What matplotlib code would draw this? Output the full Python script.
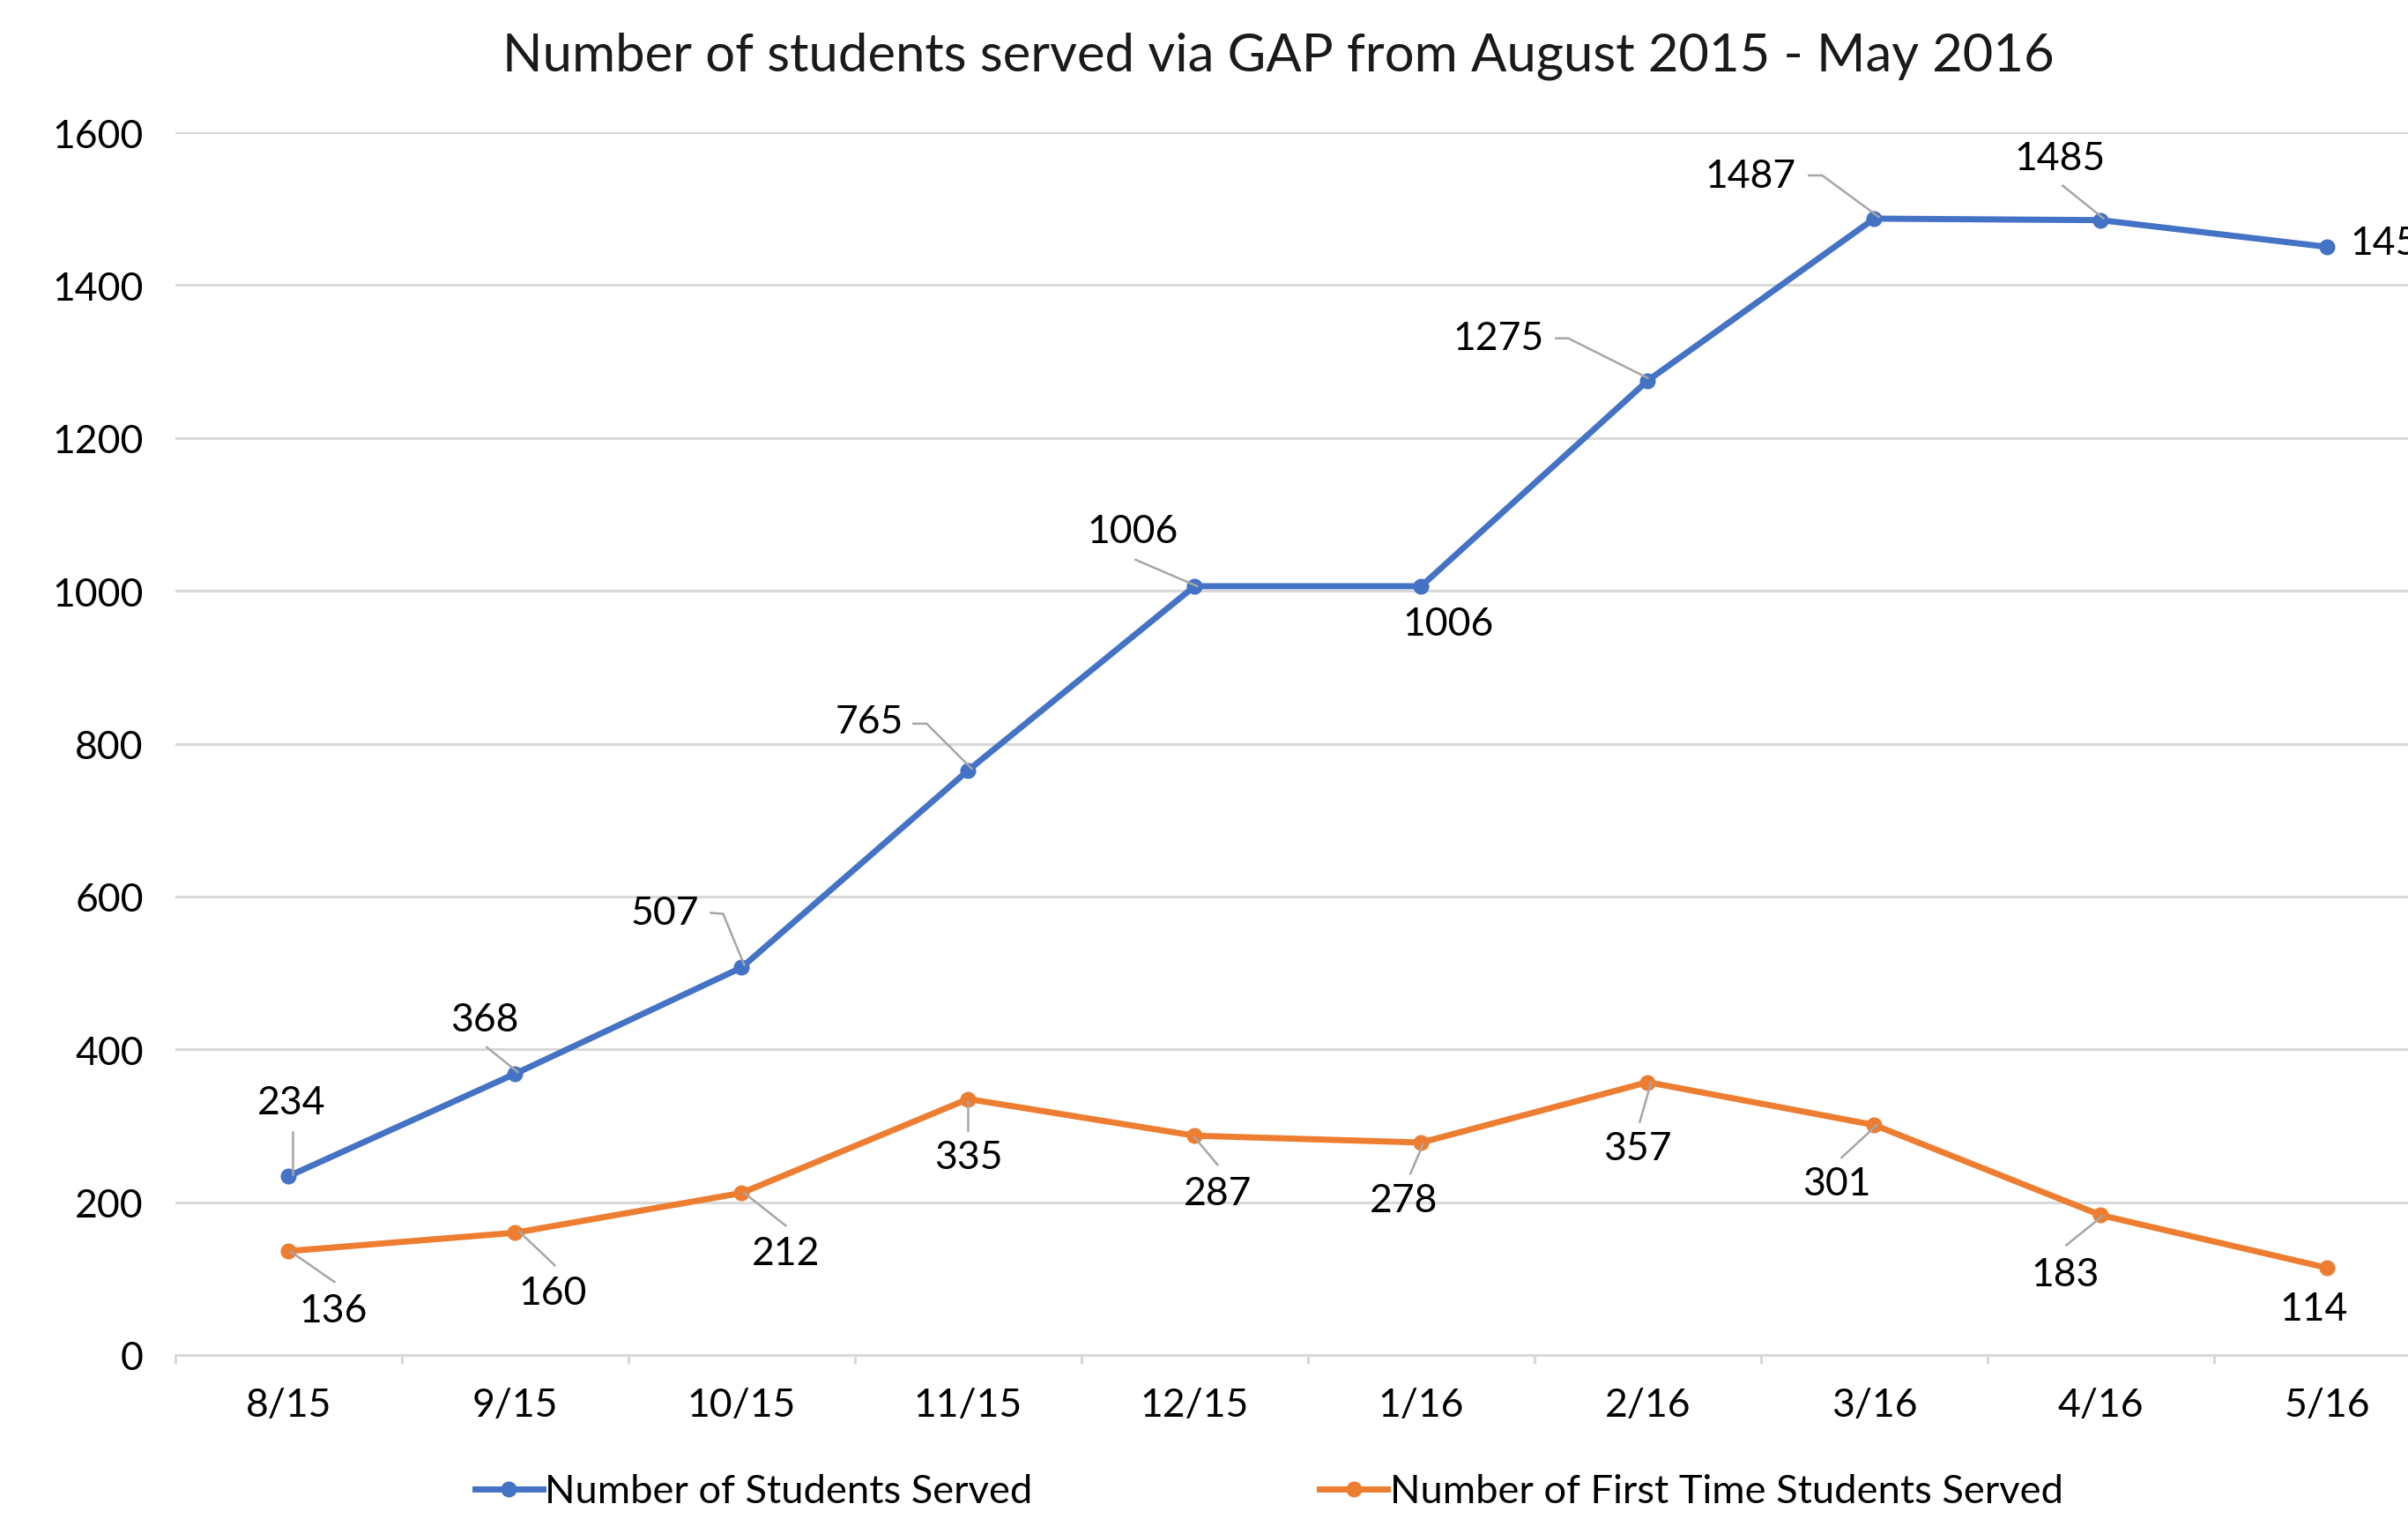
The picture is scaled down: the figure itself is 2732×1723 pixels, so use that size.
import matplotlib.pyplot as plt
from matplotlib.lines import Line2D
from matplotlib.transforms import IdentityTransform

plt.rcParams['font.family'] = ['Lato', 'DejaVu Sans']

months = ["8/15", "9/15", "10/15", "11/15", "12/15", "1/16", "2/16", "3/16", "4/16", "5/16"]
students_served = [234, 368, 507, 765, 1006, 1006, 1275, 1487, 1485, 1450]
first_time_served = [136, 160, 212, 335, 287, 278, 357, 301, 183, 114]

BLUE = "#4472C4"
ORANGE = "#ED7D31"
GRID = "#d9d9d9"
LEADER = "#a6a6a6"

# data label offsets in pixels from each point (x right, y up)
served_offsets = [(3, 84), (-35, 61), (-87, 62), (-112, 55), (-70, 62),
                  (31, -43), (-169, 48), (-140, 48), (-46, 70), (26, 5)]
first_offsets = [(51, -67), (43, -68), (50, -68), (1, -66), (26, -65),
                 (-20, -66), (-12, -75), (-43, -66), (-40, -67), (-15, -46)]

# leader lines (pixel offsets from the point), None = no leader
served_leaders = [
    [(5, 50), (5, 2)],
    [(-32, 30), (3, 2)],
    [(-35, 62), (-21, 61), (3, 3)],
    [(-62, 53), (-47, 53), (4, 2)],
    [(-67, 30), (3, 0)],
    None,
    [(-104, 48), (-90, 48), (0, 3)],
    [(-74, 49), (-59, 49), (5, 2)],
    [(-43, 39), (3, 2)],
    None,
]
first_leaders = [
    [(3, -1), (52, -35)],
    [(5, 1), (45, -37)],
    [(3, 0), (50, -37)],
    [(0, -2), (0, -35)],
    [(0, -2), (26, -33)],
    [(2, -2), (-12, -35)],
    [(4, 0), (-9, -45)],
    [(3, 0), (-37, -37)],
    [(2, -1), (-39, -34)],
    None,
]

fig = plt.figure(figsize=(13.66, 8.62), dpi=200)
ax = fig.add_axes([0.0728, 0.1079, 0.9407, 0.8045])

x = list(range(len(months)))
l1, = ax.plot(x, students_served, color=BLUE, lw=2.5, marker="o", ms=5.5,
              label="Number of Students Served", zorder=3, clip_on=False)
l2, = ax.plot(x, first_time_served, color=ORANGE, lw=2.5, marker="o", ms=5.5,
              label="Number of First Time Students Served", zorder=3, clip_on=False)

ax.set_xlim(-0.5, len(months) - 0.5)
ax.set_ylim(0, 1600)
ax.set_yticks(range(0, 1601, 200))
ax.set_xticks(x)
ax.set_xticklabels(months)
ax.set_xticks([i - 0.5 for i in range(len(months) + 1)], minor=True)
ax.grid(axis="y", color=GRID, lw=1.1)
ax.set_axisbelow(True)
for s in ["top", "right", "left"]:
    ax.spines[s].set_visible(False)
ax.spines["bottom"].set_color(GRID)
ax.spines["bottom"].set_linewidth(1.1)
ax.tick_params(axis="y", length=0, pad=13, labelsize=16)
ax.tick_params(axis="x", which="major", length=0, pad=13, labelsize=16)
ax.tick_params(axis="x", which="minor", length=3.5, width=1.1, color=GRID)

fig.text(0.531, 1 - 64 / 1724, "Number of students served via GAP from August 2015 - May 2016",
         ha="center", va="center", fontsize=21.5, color="#1a1a1a")


def draw_labels(values, offsets, leaders, last_left=False):
    for i, v in enumerate(values):
        dx, dy = offsets[i]
        ha = "left" if (last_left and i == len(values) - 1) else "center"
        ax.annotate(str(v), xy=(i, v), xytext=(dx, dy), textcoords="offset pixels",
                    ha=ha, va="center", fontsize=16, annotation_clip=False)
        if leaders[i] is not None:
            bx, by = ax.transData.transform((i, v))
            xs = [bx + p[0] for p in leaders[i]]
            ys = [by + p[1] for p in leaders[i]]
            fig.add_artist(Line2D(xs, ys, transform=IdentityTransform(),
                                  color=LEADER, lw=0.9, zorder=4))


draw_labels(students_served, served_offsets, served_leaders, last_left=True)
draw_labels(first_time_served, first_offsets, first_leaders)

fig.legend(handles=[l1, l2], loc="center", bbox_to_anchor=(0.527, 0.018), ncol=2,
           frameon=False, handlelength=1.7, handletextpad=0.05, columnspacing=7.2,
           fontsize=16.3)

fig.savefig("out.png", dpi=200)
